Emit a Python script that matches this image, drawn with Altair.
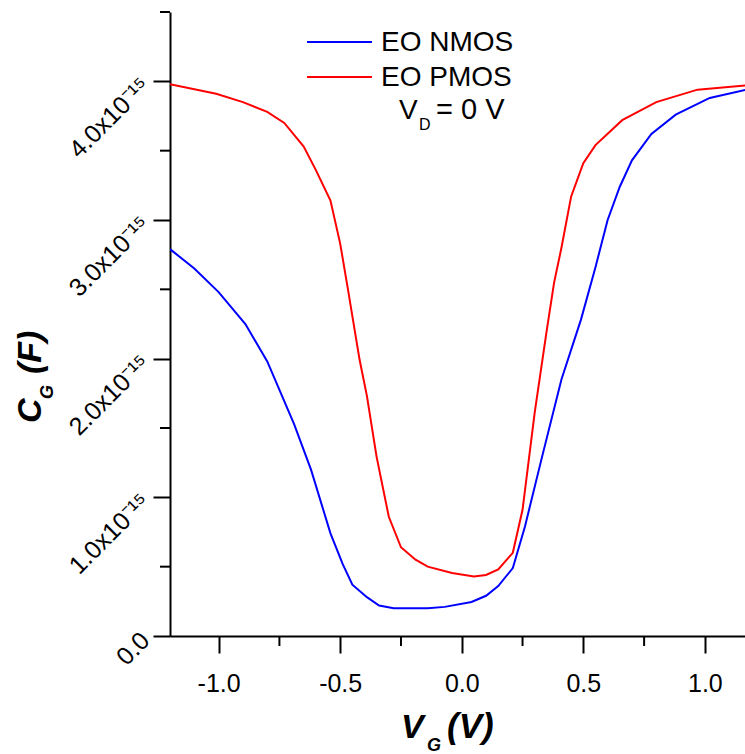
import altair as alt
import pandas as pd

# ---- data (C_G in units of 1e-15 F) ----
nmos_vg = [-1.20, -1.10, -1.00, -0.89, -0.80, -0.69, -0.62, -0.54, -0.49, -0.45, -0.39,
           -0.34, -0.28, -0.20, -0.14, -0.07, 0.04, 0.10, 0.15, 0.21, 0.26, 0.33, 0.41,
           0.49, 0.55, 0.60, 0.65, 0.70, 0.78, 0.88, 1.02, 1.17]
nmos_cg = [2.79, 2.65, 2.48, 2.25, 1.98, 1.53, 1.20, 0.74, 0.52, 0.37, 0.28,
           0.22, 0.20, 0.20, 0.20, 0.21, 0.245, 0.29, 0.36, 0.49, 0.79, 1.29, 1.85,
           2.28, 2.66, 3.00, 3.24, 3.43, 3.62, 3.76, 3.88, 3.94]

pmos_vg = [-1.20, -1.01, -0.90, -0.80, -0.73, -0.65, -0.60, -0.54, -0.50, -0.47, -0.42,
           -0.39, -0.35, -0.30, -0.25, -0.19, -0.14, -0.04, 0.05, 0.10, 0.15, 0.21,
           0.25, 0.30, 0.35, 0.38, 0.41, 0.45, 0.50, 0.55, 0.66, 0.80, 0.97, 1.17]
pmos_cg = [3.98, 3.91, 3.85, 3.78, 3.70, 3.53, 3.36, 3.14, 2.83, 2.52, 1.99,
           1.73, 1.29, 0.86, 0.64, 0.55, 0.50, 0.455, 0.43, 0.44, 0.48, 0.60,
           0.91, 1.61, 2.21, 2.55, 2.80, 3.17, 3.41, 3.54, 3.72, 3.85, 3.94, 3.97]

series_names = ["EO NMOS", "EO PMOS"]
series_colors = ["#0000ff", "#ff0000"]

x_major = [-1.0, -0.5, 0.0, 0.5, 1.0]
x_minor = [-0.75, -0.25, 0.25, 0.75]
y_major = [0, 1, 2, 3, 4]
y_minor = [0.5, 1.5, 2.5, 3.5, 4.5]

FONT = "Liberation Sans"

df = pd.concat([
    pd.DataFrame({"vg": nmos_vg, "cg": nmos_cg, "device": series_names[0]}),
    pd.DataFrame({"vg": pmos_vg, "cg": pmos_cg, "device": series_names[1]}),
])

xscale = alt.Scale(domain=[-1.2, 1.165], nice=False, zero=False)
yscale = alt.Scale(domain=[0, 4.5], nice=False)

xaxis = alt.Axis(values=x_major, title=None, grid=False, tickSize=17, tickWidth=2,
                 tickColor="black", domainColor="black", domainWidth=2,
                 labelFont=FONT, labelFontSize=25, labelColor="black", labelPadding=18,
                 labelExpr="(datum.value < 0 ? '-' : '') + format(abs(datum.value), '.1f')")
yaxis = alt.Axis(values=y_major, title=None, grid=False, tickSize=17, tickWidth=2,
                 tickColor="black", domainColor="black", domainWidth=2,
                 labelFont=FONT, labelFontSize=25, labelColor="black", labelPadding=8,
                 labelAngle=-45, labelAlign="right", labelBaseline="middle",
                 labelExpr="datum.value == 0 ? '0.0' : format(datum.value, '.1f') + 'x10\u207b\u00b9\u2075'")

lines = alt.Chart(df).mark_line(strokeWidth=2, clip=True).encode(
    x=alt.X("vg:Q", scale=xscale, axis=xaxis),
    y=alt.Y("cg:Q", scale=yscale, axis=yaxis),
    color=alt.Color("device:N", scale=alt.Scale(domain=series_names, range=series_colors), legend=None),
    detail="device:N",
)

xminor = alt.Chart(pd.DataFrame({"vg": x_minor})).mark_rule(strokeWidth=2, color="black").encode(
    x=alt.X("vg:Q", scale=xscale, axis=xaxis),
    y=alt.value(624), y2=alt.value(634),
)
yminor = alt.Chart(pd.DataFrame({"cg": y_minor})).mark_rule(strokeWidth=2, color="black").encode(
    y=alt.Y("cg:Q", scale=yscale, axis=yaxis),
    x=alt.value(0), x2=alt.value(-10),
)


def label(text, x, y, size, bold=False, italic=False, angle=0, align="left"):
    kw = dict(font=FONT, fontSize=size, align=align, baseline="alphabetic", color="black")
    if bold:
        kw["fontWeight"] = "bold"
    if italic:
        kw["fontStyle"] = "italic"
    if angle:
        kw["angle"] = angle
    return alt.Chart(alt.InlineData(values=[{"t": text}])).mark_text(**kw).encode(
        text="t:N", x=alt.value(x), y=alt.value(y))


# legend
leg_df = pd.DataFrame({"device": series_names, "ypix": [30, 65]})
leg_lines = alt.Chart(leg_df).mark_rule(strokeWidth=2).encode(
    x=alt.value(137), x2=alt.value(202),
    y=alt.Y("ypix:Q", scale=None),
    color=alt.Color("device:N", scale=alt.Scale(domain=series_names, range=series_colors), legend=None),
)
leg_text = alt.Chart(leg_df).mark_text(font=FONT, fontSize=28, align="left", baseline="middle", color="black", dy=1).encode(
    x=alt.value(211),
    y=alt.Y("ypix:Q", scale=None),
    text="device:N",
)

annots = [
    label("V", 229, 107, 28),
    label("D", 249, 118, 16),
    label("= 0 V", 266, 107, 29),
    # x title
    label("V", 231, 726, 34, bold=True, italic=True),
    label("G", 257, 739, 18, bold=True, italic=True),
    label("(V)", 277, 726, 35, bold=True, italic=True),
    # y title
    label("C", -129, 411, 34, bold=True, italic=True, angle=270),
    label("G", -117, 387, 18, bold=True, italic=True, angle=270),
    label("(F)", -129, 362, 34, bold=True, italic=True, angle=270),
]

chart = alt.layer(lines, xminor, yminor, leg_lines, leg_text, *annots).properties(
    width=575, height=624,
    padding={"left": 170, "top": 12, "right": 0, "bottom": 118},
    autosize=alt.AutoSizeParams(type="none"),
).configure_view(stroke=None)

chart.save("out.html", embed_options={"renderer": "svg", "actions": False})
